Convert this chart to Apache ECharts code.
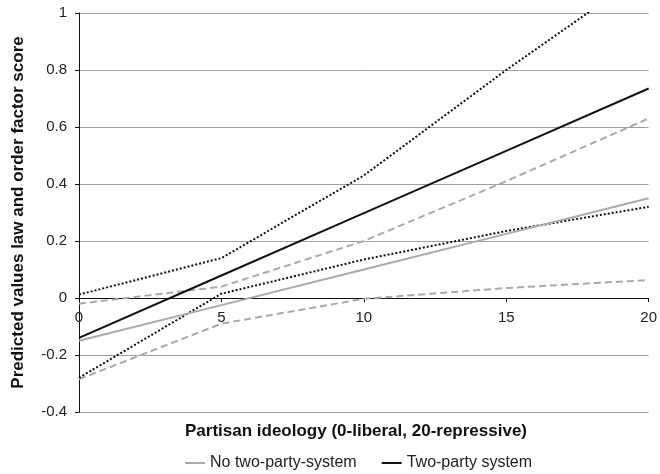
<!DOCTYPE html>
<html>
<head>
<meta charset="utf-8">
<script src="https://cdn.jsdelivr.net/npm/echarts@6/dist/echarts.min.js"></script>
<style>html,body{margin:0;padding:0;background:#fff}#c{width:660px;height:474px}</style>
</head>
<body>
<div id="c"></div>
<script>
const xValues = [0, 5, 10, 15, 20];
const noTwoParty = [-0.15, -0.025, 0.10, 0.225, 0.35];
const noTwoPartyUpper = [-0.02, 0.04, 0.20, 0.41, 0.63];
const noTwoPartyLower = [-0.285, -0.09, -0.003, 0.035, 0.063];
const twoParty = [-0.14, 0.079, 0.298, 0.516, 0.735];
const twoPartyUpper = [0.012, 0.14, 0.43, 0.80, 1.15];
const twoPartyLower = [-0.28, 0.015, 0.135, 0.235, 0.32];
const yTicks = [-0.4, -0.2, 0, 0.2, 0.4, 0.6, 0.8, 1];
const xTitle = 'Partisan ideology (0-liberal, 20-repressive)';
const yTitle = 'Predicted values law and order factor score';
const names = ['No two-party-system', 'Two-party system'];

const pair = arr => xValues.map((x, i) => [x, arr[i]]);
const GRAY = '#aaaaaa', BLACK = '#111111';
const font = 'Liberation Sans, Arial, sans-serif';

const chart = echarts.init(document.getElementById('c'), null, {renderer: 'canvas'});
chart.setOption({
  animation: false,
  backgroundColor: '#fff',
  textStyle: {fontFamily: font},
  grid: {left: 79, right: 9, top: 13, bottom: 62, containLabel: false},
  title: {
    text: xTitle, left: 185, top: 423, padding: 0,
    textStyle: {fontFamily: font, fontSize: 17, fontWeight: 'bold', color: '#111'}
  },
  legend: {
    data: names, top: 455, left: 185,
    itemWidth: 20, itemHeight: 2, itemGap: 25, icon: 'rect', padding: 0,
    textStyle: {fontFamily: font, fontSize: 16, color: '#222'}
  },
  xAxis: {
    type: 'value', min: 0, max: 20, interval: 5,
    position: 'bottom', offset: -114,
    axisLine: {onZero: false, lineStyle: {color: '#111', width: 1}},
    axisTick: {show: true, length: 4, inside: false, lineStyle: {color: '#111'}},
    axisLabel: {fontFamily: font, fontSize: 15, color: '#222', margin: 12},
    splitLine: {show: false}
  },
  yAxis: {
    type: 'value', min: -0.4, max: 1, interval: 0.2,
    name: yTitle, nameLocation: 'middle', nameGap: 52,
    nameTextStyle: {fontFamily: font, fontSize: 17, fontWeight: 'bold', color: '#111'},
    axisLine: {show: true, lineStyle: {color: '#111', width: 1}},
    axisTick: {show: true, length: 4, lineStyle: {color: '#111'}},
    axisLabel: {fontFamily: font, fontSize: 15, color: '#222', margin: 12,
      formatter: v => { const r = Math.round(v * 10) / 10; return yTicks.includes(r) ? String(r) : ''; }},
    splitLine: {show: true, lineStyle: {color: '#a0a0a0', width: 1}}
  },
  series: [
    {name: 'nt-upper', type: 'line', data: pair(noTwoPartyUpper), symbol: 'none', silent: true,
      lineStyle: {color: GRAY, width: 2, type: [7, 4]}, z: 2},
    {name: 'nt-lower', type: 'line', data: pair(noTwoPartyLower), symbol: 'none', silent: true,
      lineStyle: {color: GRAY, width: 2, type: [7, 4]}, z: 2},
    {name: 'tp-upper', type: 'line', data: pair(twoPartyUpper), symbol: 'none', silent: true,
      lineStyle: {color: BLACK, width: 2, type: [2, 2]}, z: 3},
    {name: 'tp-lower', type: 'line', data: pair(twoPartyLower), symbol: 'none', silent: true,
      lineStyle: {color: BLACK, width: 2, type: [2, 2]}, z: 3},
    {name: names[0], type: 'line', data: pair(noTwoParty), symbol: 'none',
      color: GRAY, lineStyle: {color: GRAY, width: 2}, z: 4},
    {name: names[1], type: 'line', data: pair(twoParty), symbol: 'none',
      color: BLACK, lineStyle: {color: BLACK, width: 2}, z: 5}
  ]
});
</script>
</body>
</html>
